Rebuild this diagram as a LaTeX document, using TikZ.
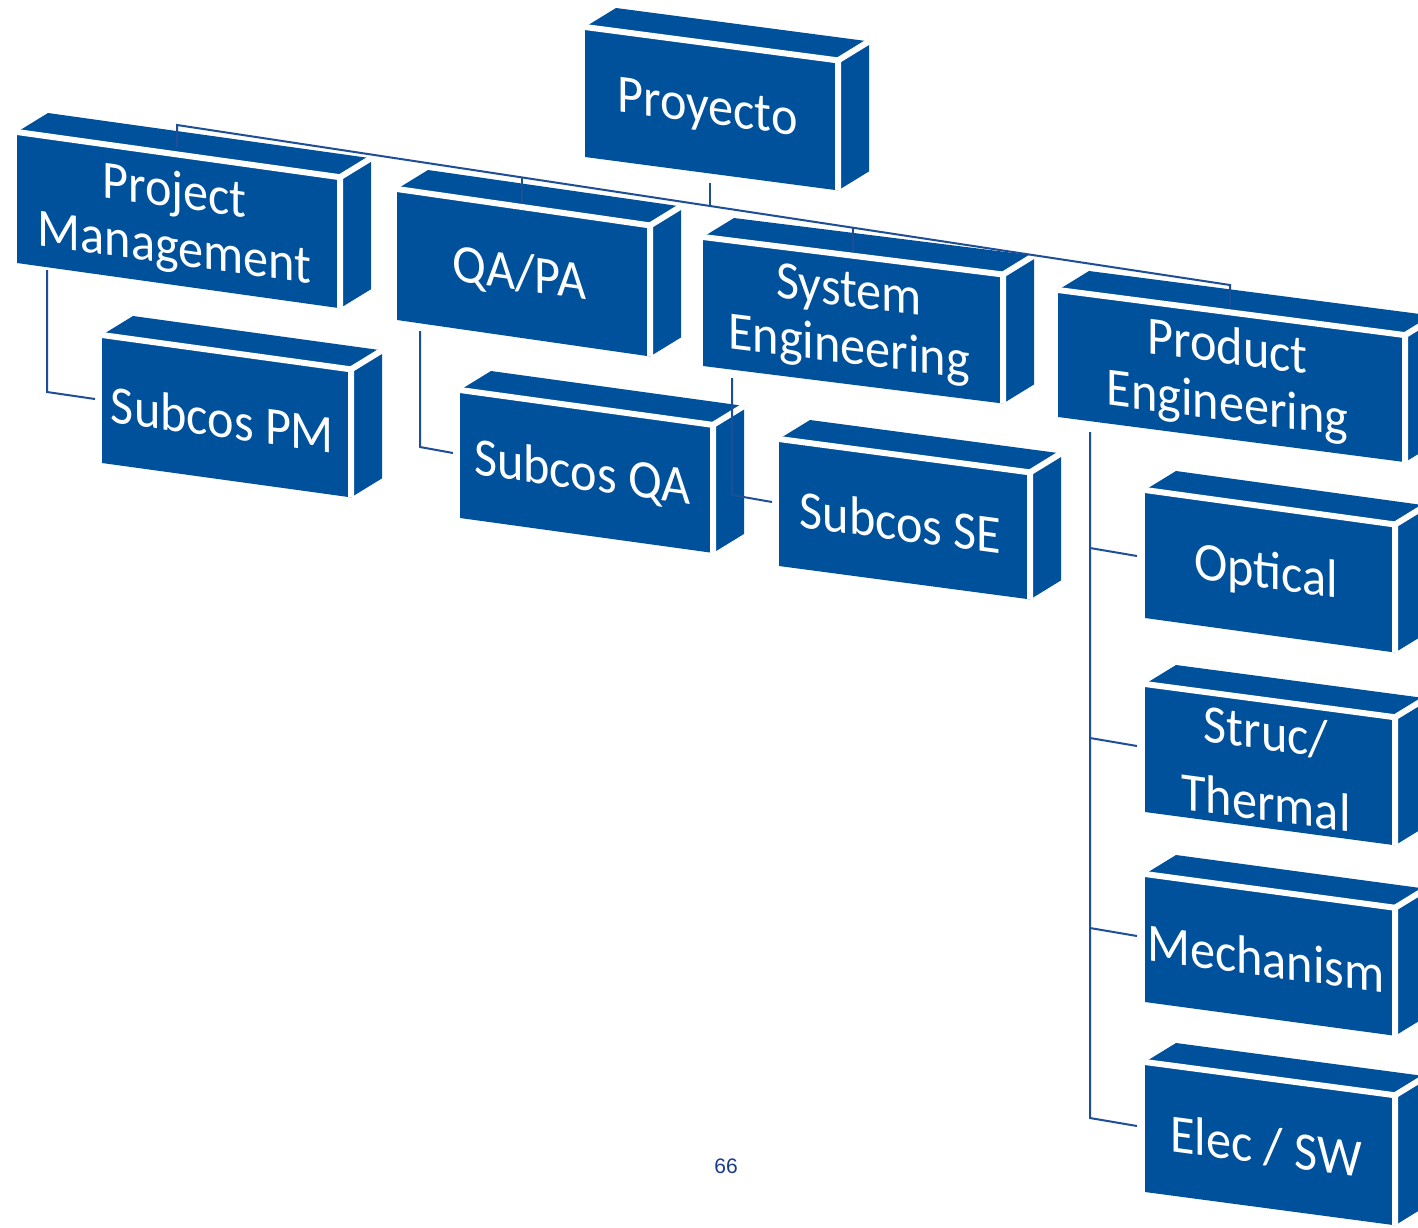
\documentclass[tikz,border=0pt]{standalone}
\usepackage{fontspec}
\setmainfont{Carlito}
\newfontfamily\arialf{Liberation Sans}
\definecolor{boxblue}{RGB}{0,81,155}
\definecolor{linkblue}{RGB}{30,78,150}
\definecolor{pagenavy}{RGB}{25,60,140}
\tikzset{
  whiteedge/.style={white, line width=3pt},
  lbl/.style={text=white, font=\fontsize{27}{28.5}\selectfont, align=center, inner sep=0pt},
  conn/.style={linkblue, line width=1pt},
}
% #1 name, #2 x, #3 y (front top-left), #4 width, #5 height, #6 slope, #7 text, #8 text y offset
\newcommand\cubebox[8]{%
  \fill[boxblue] (#2,#3) -- ++(#4,{#4*#6}) -- ++(31,-19) -- ++(-#4,{-#4*#6}) -- cycle;
  \fill[boxblue] ({#2+#4},{#3+#4*#6}) -- ++(0,#5) -- ++(31,-19) -- ++(0,-#5) -- cycle;
  \fill[boxblue] (#2,#3) -- ++(#4,{#4*#6}) -- ++(0,#5) -- (#2,{#3+#5}) -- cycle;
  \draw[whiteedge] (#2,#3) -- ++(#4,{#4*#6}) coordinate (#1-B) -- ++(0,#5);
  \draw[whiteedge] (#1-B) -- ++(31,-19);
  \node[lbl, yslant=-#6, xscale=0.93] (#1) at ({#2+#4/2-4},{#3+#4*#6/2+#5/2+#8}) {#7};
}
\begin{document}
\begin{tikzpicture}[x=0.5pt,y=-0.5pt]
\useasboundingbox (0,0) rectangle (1418,1227);
\fill[white] (0,0) rectangle (1418,1227);

\cubebox{proy}{585}{27}{253}{130}{0.132}{Proyecto}{2}
\cubebox{pm}{17}{132}{323}{131}{0.14}{Project\\Management}{2}
\cubebox{qapa}{397}{189}{253}{131}{0.144}{QA/PA}{2}
\cubebox{se}{703}{237}{300}{129}{0.125}{System\\Engineering}{2}
\cubebox{pe}{1058}{290}{347}{127}{0.13}{Product\\Engineering}{2}
\cubebox{spm}{102}{335}{249}{128}{0.138}{Subcos PM}{3}
\cubebox{sqa}{460}{390}{253}{128}{0.138}{Subcos QA}{3}
\cubebox{sse}{779}{439}{251}{127}{0.133}{Subcos SE}{3}
\cubebox{opt}{1145}{490}{250}{128}{0.138}{Optical}{3}
\cubebox{str}{1145}{684}{250}{128}{0.133}{Struc/\\[7pt]Thermal}{2}
\cubebox{mec}{1145}{874}{250}{128}{0.135}{Mechanism}{3}
\cubebox{ele}{1145}{1062}{250}{130}{0.133}{Elec / SW}{3}

% connector points
\coordinate (busL) at (177,125);
\coordinate (busR) at (1230,285);
\coordinate (pmTop) at (177,147);
\coordinate (peTop) at (1230,307);
\coordinate (qaBus) at (522,178);
\coordinate (qaTop) at (522,203);
\coordinate (seBus) at (853,227);
\coordinate (seTop) at (853,252);
\coordinate (prBot) at (710,183);
\coordinate (prBus) at (710,206);
\coordinate (pmBot) at (47,270);
\coordinate (pmCorner) at (47,392);
\coordinate (spmIn) at (95,399);
\coordinate (qaBot) at (420,331);
\coordinate (qaCorner) at (420,447);
\coordinate (sqaIn) at (453,453);
\coordinate (seBot) at (732,378);
\coordinate (seCorner) at (732,495);
\coordinate (sseIn) at (772,502);
\coordinate (peBot) at (1090,432);
\coordinate (peOpt) at (1090,548);
\coordinate (optIn) at (1137,556);
\coordinate (peStr) at (1090,738);
\coordinate (strIn) at (1137,746);
\coordinate (peMec) at (1090,928);
\coordinate (mecIn) at (1137,936);
\coordinate (peCorner) at (1090,1118);
\coordinate (eleIn) at (1137,1126);

\draw[conn] (pmTop) -- (busL) -- (busR) -- (peTop);
\draw[conn] (qaBus) -- (qaTop);
\draw[conn] (seBus) -- (seTop);
\draw[conn] (prBot) -- (prBus);
\draw[conn] (pmBot) -- (pmCorner) -- (spmIn);
\draw[conn] (qaBot) -- (qaCorner) -- (sqaIn);
\draw[conn] (seBot) -- (seCorner) -- (sseIn);
\draw[conn] (peBot) -- (peCorner) -- (eleIn);
\draw[conn] (peOpt) -- (optIn);
\draw[conn] (peStr) -- (strIn);
\draw[conn] (peMec) -- (mecIn);

\node[text=pagenavy, font=\arialf\fontsize{10.5}{12}\selectfont, inner sep=0pt] (pagenum) at (726,1166) {66};
\end{tikzpicture}
\end{document}
